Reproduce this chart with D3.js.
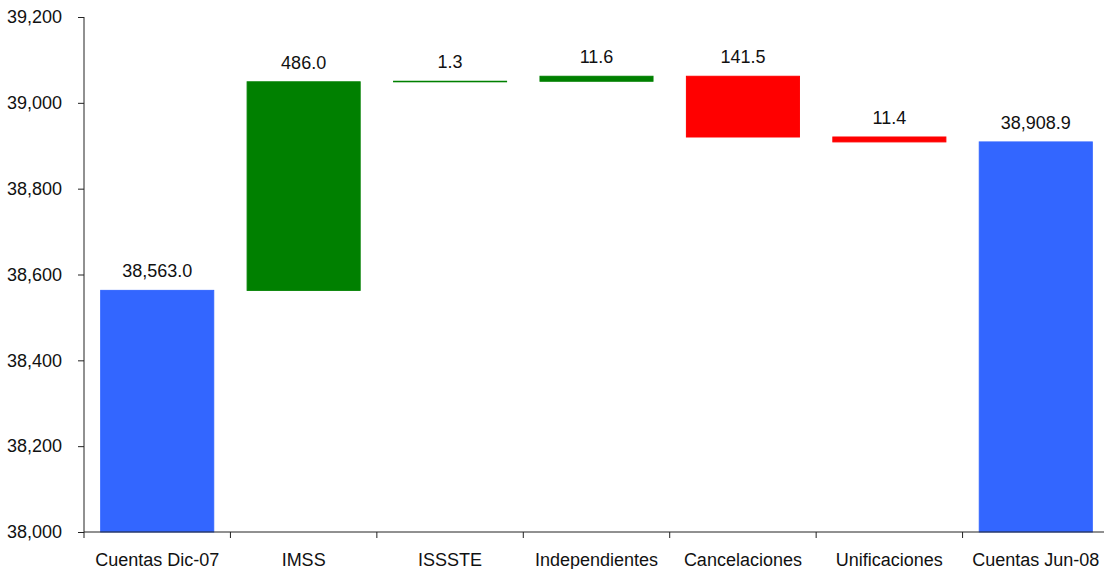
<!DOCTYPE html>
<html>
<head>
<meta charset="utf-8">
<script src="https://cdn.jsdelivr.net/npm/d3@7"></script>
<style>
  body { margin: 0; background: #fff; overflow: hidden; }
  text { font-family: "Liberation Sans", Arial, sans-serif; fill: #111; }
</style>
</head>
<body>
<div id="chart"></div>
<script>
// waterfall data
const categories = ["Cuentas Dic-07", "IMSS", "ISSSTE", "Independientes", "Cancelaciones", "Unificaciones", "Cuentas Jun-08"];
const changes = [38563.0, 486.0, 1.3, 11.6, -141.5, -11.4, 38908.9];
const kinds = ["total", "up", "up", "up", "down", "down", "total"];
const yTicks = [38000, 38200, 38400, 38600, 38800, 39000, 39200];

const colors = {total: "#3366FF", up: "#008000", down: "#FF0000"};

// plot runs a little past the right edge of the picture, like the original
let margin = {top: 17, right: -5, bottom: 37, left: 84},
    width = 1104 - margin.left - margin.right,
    height = 569 - margin.top - margin.bottom;

let svg = d3.select("#chart")
  .append("svg")
    .attr("width", 1104)
    .attr("height", 569)
  .append("g")
    .attr("transform", "translate(" + margin.left + "," + margin.top + ")");

// build start / end for each step
let running = 0;
let steps = categories.map((c, i) => {
  let start, end;
  if (kinds[i] === "total") { start = 38000; end = changes[i]; running = changes[i]; }
  else { start = running; end = running + changes[i]; running = end; }
  return {cat: c, start: start, end: end, kind: kinds[i], value: changes[i]};
});

const X_SCALE = d3.scaleBand()
  .domain(categories)
  .range([0, width])
  .paddingInner(0.228)
  .paddingOuter(0.114);

const Y_SCALE = d3.scaleLinear()
  .domain([38000, 39200])
  .range([height, 0]);

// bars
svg.selectAll(".bar")
  .data(steps)
  .enter().append("rect")
    .attr("class", "bar")
    .attr("x", d => X_SCALE(d.cat))
    .attr("y", d => Y_SCALE(Math.max(d.start, d.end)))
    .attr("width", X_SCALE.bandwidth())
    .attr("height", d => Math.abs(Y_SCALE(d.start) - Y_SCALE(d.end)))
    .style("fill", d => colors[d.kind])
    .style("stroke", d => colors[d.kind])
    .style("stroke-width", 1);

// value labels
const fmt = d3.format(",.1f");
svg.selectAll(".lbl")
  .data(steps)
  .enter().append("text")
    .attr("class", "lbl")
    .attr("x", d => X_SCALE(d.cat) + X_SCALE.bandwidth() / 2)
    .attr("y", d => Y_SCALE(Math.max(d.start, d.end)) - 13)
    .attr("text-anchor", "middle")
    .style("font-size", "18px")
    .text(d => fmt(Math.abs(d.value)));

// y axis
let yAxis = svg.append("g")
  .call(d3.axisLeft(Y_SCALE).tickValues(yTicks).tickSize(6).tickPadding(16).tickFormat(d3.format(",")));
yAxis.select(".domain").attr("d", "M0," + height + "V0").attr("stroke", "#222");
yAxis.selectAll("line").attr("stroke", "#222");
yAxis.selectAll("text").style("font-size", "18px");

// x axis with ticks between categories
let xAxis = svg.append("g")
  .attr("transform", "translate(0," + height + ")");
xAxis.append("line")
  .attr("x1", 0).attr("x2", width)
  .attr("stroke", "#222");
const step = X_SCALE.step();
const bounds = d3.range(categories.length).map(i => X_SCALE(categories[i]) - X_SCALE.paddingInner() * step / 2);
xAxis.selectAll(".xt")
  .data(bounds)
  .enter().append("line")
    .attr("x1", d => d).attr("x2", d => d)
    .attr("y1", 0).attr("y2", 6)
    .attr("stroke", "#222");
xAxis.selectAll(".xl")
  .data(categories)
  .enter().append("text")
    .attr("x", d => X_SCALE(d) + X_SCALE.bandwidth() / 2)
    .attr("y", 34)
    .attr("text-anchor", "middle")
    .style("font-size", "18px")
    .text(d => d);
</script>
</body>
</html>
